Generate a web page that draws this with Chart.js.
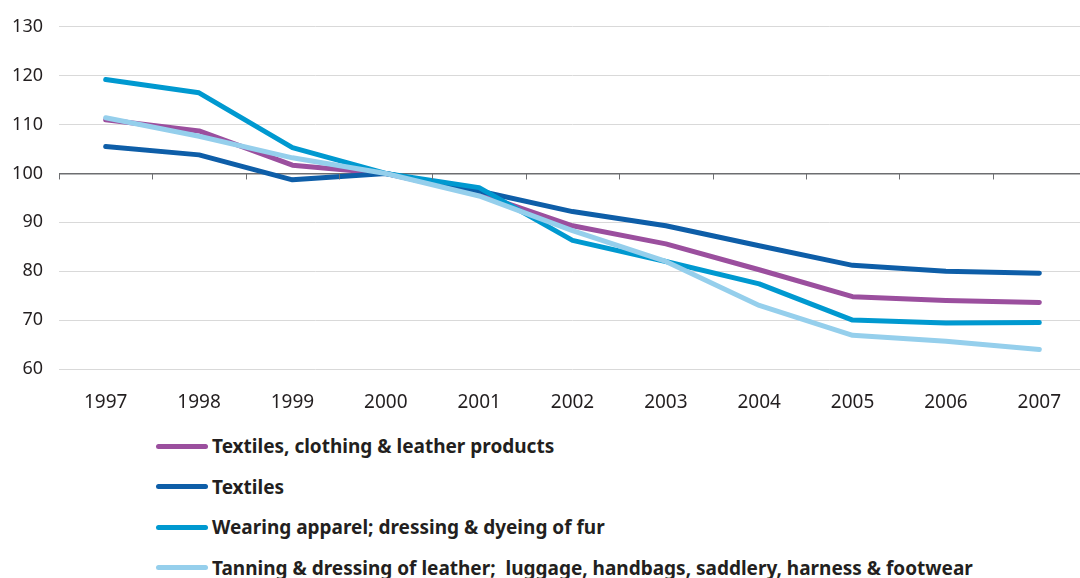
<!DOCTYPE html>
<html>
<head>
<meta charset="utf-8">
<script src="https://cdn.jsdelivr.net/npm/chart.js@4"></script>
<style>
  html, body { margin: 0; padding: 0; background: #fff; overflow: hidden; }
  #wrap { position: relative; width: 1086px; height: 420px; }
  #legend { position: absolute; left: 156px; top: 426px; font-family: "Noto Sans", sans-serif; font-weight: bold; font-size: 19px; color: #231f20; }
  .row { height: 40.5px; display: flex; align-items: center; }
  .swatch { width: 52px; height: 5px; border-radius: 3px; margin-right: 4px; }
</style>
</head>
<body>
<div id="wrap"><canvas id="chart" width="1086" height="420"></canvas></div>
<div id="legend"></div>
<script>
const years = ["1997", "1998", "1999", "2000", "2001", "2002", "2003", "2004", "2005", "2006", "2007"];
const yTicks = [60, 70, 80, 90, 100, 110, 120, 130];

const textilesClothingLeather = [111.0, 108.7, 101.7, 100, 95.8, 89.3, 85.6, 80.3, 74.8, 74.0, 73.6];
const textiles = [105.5, 103.8, 98.7, 100, 96.4, 92.2, 89.3, 85.2, 81.2, 80.0, 79.6];
const wearingApparel = [119.2, 116.5, 105.3, 100, 97.1, 86.3, 82.0, 77.4, 70.0, 69.4, 69.5];
const tanningLeather = [111.4, 107.6, 103.2, 100, 95.4, 88.3, 82.0, 73.0, 66.9, 65.7, 64.0];

const series = [
  { label: "Textiles, clothing & leather products", data: textilesClothingLeather, color: "#9b4f9e", order: 4 },
  { label: "Textiles", data: textiles, color: "#0e5ea8", order: 3 },
  { label: "Wearing apparel; dressing & dyeing of fur", data: wearingApparel, color: "#0099d0", order: 2 },
  { label: "Tanning & dressing of leather;  luggage, handbags, saddlery, harness & footwear", data: tanningLeather, color: "#95cfec", order: 1 },
];

// tick marks hanging under the 100 line, at the category boundaries
const baseTicks = {
  id: "baseTicks",
  afterDatasetsDraw(chart) {
    const x = chart.scales.x, y = chart.scales.y;
    const ctx = chart.ctx;
    const y0 = y.getPixelForValue(100);
    ctx.save();
    ctx.strokeStyle = "#6d6e71";
    ctx.lineWidth = 1;
    for (let i = 0; i <= years.length; i++) {
      const px = Math.round(x.getPixelForValue(i - 0.5)) + 0.5;
      ctx.beginPath();
      ctx.moveTo(px, y0);
      ctx.lineTo(px, y0 + 6);
      ctx.stroke();
    }
    ctx.restore();
  },
};

new Chart(document.getElementById("chart"), {
  type: "line",
  data: {
    labels: years,
    datasets: series.map((s) => ({
      label: s.label,
      data: s.data,
      borderColor: s.color,
      backgroundColor: s.color,
      borderWidth: 5,
      pointRadius: 0,
      tension: 0,
      order: s.order,
      borderCapStyle: "round",
      borderJoinStyle: "round",
    })),
  },
  options: {
    responsive: false,
    animation: false,
    layout: { padding: { top: 25, right: 0, bottom: 0, left: 0 } },
    scales: {
      x: {
        offset: true,
        grid: { display: false, drawTicks: false },
        border: { display: false },
        ticks: { color: "#231f20", font: { family: "Noto Sans", size: 19 }, padding: 22, maxRotation: 0 },
        afterFit: (s) => { s.height = 51; },
      },
      y: {
        min: 60,
        max: 130,
        afterBuildTicks: (s) => { s.ticks = yTicks.map((v) => ({ value: v })); },
        grid: {
          color: (c) => (c.tick && c.tick.value === 100 ? "#6d6e71" : "#d9d9d9"),
          lineWidth: (c) => (c.tick && c.tick.value === 100 ? 1.5 : 1),
          drawTicks: false,
        },
        border: { display: false },
        ticks: { color: "#231f20", font: { family: "Noto Sans", size: 18 }, padding: 16 },
        afterFit: (s) => { s.width = 59; },
      },
    },
    plugins: { legend: { display: false }, tooltip: { enabled: false } },
  },
  plugins: [baseTicks],
});

const legend = document.getElementById("legend");
series.forEach((s) => {
  const row = document.createElement("div");
  row.className = "row";
  const sw = document.createElement("div");
  sw.className = "swatch";
  sw.style.background = s.color;
  const txt = document.createElement("span");
  txt.textContent = s.label;
  txt.style.whiteSpace = "pre";
  row.appendChild(sw);
  row.appendChild(txt);
  legend.appendChild(row);
});
</script>
</body>
</html>
